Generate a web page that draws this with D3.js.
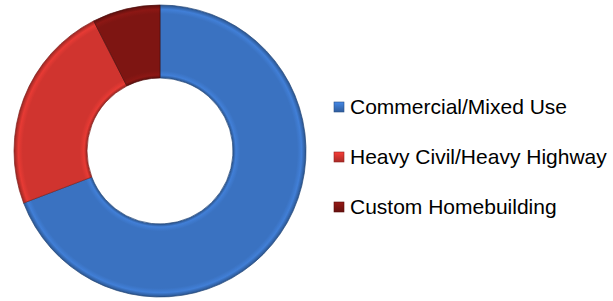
<!DOCTYPE html>
<html>
<head>
<meta charset="utf-8">
<script src="https://cdn.jsdelivr.net/npm/d3@7"></script>
<style>
  html, body { margin: 0; padding: 0; background: #fff; }
  svg { display: block; }
</style>
</head>
<body>
<div class="app"></div>
<script>
// Data
const categories = ['Commercial/Mixed Use', 'Heavy Civil/Heavy Highway', 'Custom Homebuilding'];
const shares = [69.2, 23.3, 7.5];
const colors = ['#3a72c1', '#d0342f', '#7e1512'];

const width = 613;
const height = 301;

const svg = d3.select('.app')
  .append('svg')
  .attr('width', width)
  .attr('height', height)
  .attr('viewBox', [0, 0, width, height]);

const color = d3.scaleOrdinal().domain(categories).range(colors);

// Donut
const cx = 160, cy = 151;
const outerR = 146, innerR = 73;

// radial shading: dark rim, soft highlight, flat body
// (gradient lives in the pie group's coords, so centred on 0,0)
const defs = svg.append('defs');
const k = innerR / outerR;
categories.forEach((c, i) => {
  const base = d3.color(color(c));
  const g = defs.append('radialGradient')
    .attr('id', `ring${i}`)
    .attr('gradientUnits', 'userSpaceOnUse')
    .attr('cx', 0).attr('cy', 0).attr('r', outerR);
  [
    [k, base.darker(0.9)],
    [k + 0.02, base.brighter(0.3)],
    [k + 0.05, base],
    [0.94, base],
    [0.97, base.brighter(0.3)],
    [1, base.darker(0.9)]
  ].forEach(([o, col]) => g.append('stop').attr('offset', o).attr('stop-color', col));

  const lg = defs.append('linearGradient')
    .attr('id', `key${i}`)
    .attr('x1', 0).attr('y1', 0).attr('x2', 0).attr('y2', 1);
  [[0, base.brighter(0.5)], [0.5, base], [1, base.darker(0.6)]]
    .forEach(([o, col]) => lg.append('stop').attr('offset', o).attr('stop-color', col));
});

const pie = d3.pie().sort(null).value(d => d);
const arc = d3.arc().innerRadius(innerR).outerRadius(outerR);

const gPie = svg.append('g')
  .attr('transform', `translate(${cx},${cy})`);

gPie.selectAll('path')
  .data(pie(shares))
  .join('path')
  .attr('d', arc)
  .attr('fill', (d, i) => `url(#ring${i})`)
  .attr('stroke', (d, i) => d3.color(color(categories[i])).darker(1.3))
  .attr('stroke-width', 0.7);

// Legend
const legendY = d3.scalePoint()
  .domain(categories)
  .range([107, 207]);

const gLegend = svg.append('g')
  .attr('font-family', '"Liberation Sans", Arial, sans-serif')
  .attr('font-size', 21)
  .attr('fill', '#000');

const rows = gLegend.selectAll('g')
  .data(categories)
  .join('g')
  .attr('transform', d => `translate(334,${legendY(d)})`);

rows.append('rect')
  .attr('x', 0)
  .attr('y', -5)
  .attr('width', 10)
  .attr('height', 10)
  .attr('fill', (d, i) => `url(#key${i})`)
  .attr('stroke', d => d3.color(color(d)).darker(1))
  .attr('stroke-width', 0.6);

rows.append('text')
  .attr('x', 16)
  .attr('dy', '0.35em')
  .text(d => d);
</script>
</body>
</html>
